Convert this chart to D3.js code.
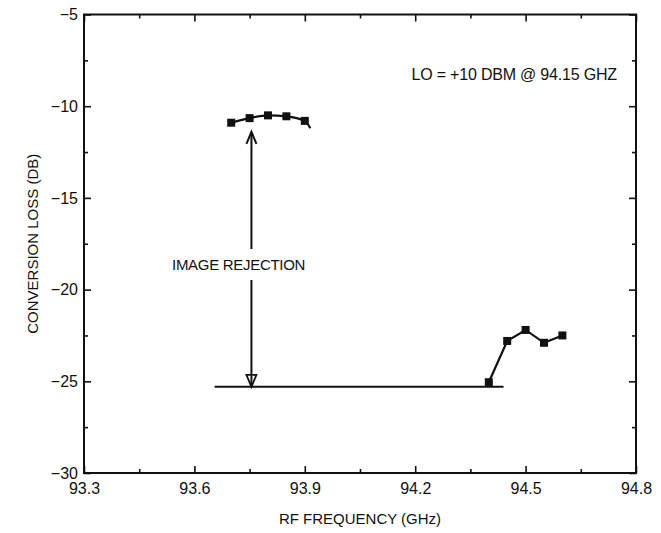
<!DOCTYPE html>
<html>
<head>
<meta charset="utf-8">
<script src="https://cdn.jsdelivr.net/npm/d3@7"></script>
<style>
    html, body { margin: 0; padding: 0; background: #fff; }
    svg { display: block; font-family: "Liberation Sans", Arial, Helvetica, sans-serif; }
    .tick line { stroke: #111; stroke-width: 1.6; }
    .tick text { fill: #111; font-size: 16px; }
</style>
</head>
<body>
<svg id="chart" width="661" height="533"></svg>
<script>
// Data
const upperFreq = [93.70, 93.75, 93.80, 93.85, 93.90];
const upperLoss = [-10.9, -10.65, -10.5, -10.55, -10.8];
const upperTail = [93.915, -11.2];   // trace runs on a little past the last point
const lowerFreq = [94.40, 94.45, 94.50, 94.55, 94.60];
const lowerLoss = [-25.05, -22.8, -22.2, -22.9, -22.5];
const floorLine = [[93.655, -25.3], [94.44, -25.3]];
const arrowX = 93.755;
const arrowEnds = [-11.4, -25.3];
const xTicks = [93.3, 93.6, 93.9, 94.2, 94.5, 94.8];
const xMinorTicks = [93.45, 93.75, 94.05, 94.35, 94.65];
const yTicks = [-5, -10, -15, -20, -25, -30];
const yMinorTicks = [-7.5, -12.5, -17.5, -22.5, -27.5];
const rejectionLabel = { text: 'IMAGE REJECTION', x: 93.72, y: -18.66 };
const loLabel = { text: 'LO = +10 DBM @ 94.15 GHZ', x: 94.19, y: -8.25 };

(function () {

    let margin = { top: 14.5, right: 25, bottom: 60, left: 84 },
        svg = d3.select('#chart'),
        width = +svg.attr('width') - margin.left - margin.right,
        height = +svg.attr('height') - margin.top - margin.bottom,
        g = svg.append('g').attr('transform', 'translate(' + margin.left + ',' + margin.top + ')'),
        x = d3.scaleLinear().domain([93.3, 94.8]).range([0, width]),
        y = d3.scaleLinear().domain([-30, -5]).range([height, 0])
    ;

    // Axes: major + minor ticks pointing inward on all four sides
    function axis(gen, values, size, labels, tx, ty, pad) {
        let a = gen.tickValues(values).tickSizeInner(-size).tickSizeOuter(0).tickPadding(pad || 0);
        if (!labels) a.tickFormat('');
        let sel = g.append('g').attr('transform', 'translate(' + tx + ',' + ty + ')').call(a);
        sel.select('.domain').remove();
        return sel;
    }

    axis(d3.axisBottom(x), xTicks, 7, true, 0, height, 10)
        .selectAll('text').text((d) => d.toFixed(1));
    axis(d3.axisBottom(x), xMinorTicks, 4, false, 0, height);
    axis(d3.axisTop(x), xTicks, 7, false, 0, 0);
    axis(d3.axisTop(x), xMinorTicks, 4, false, 0, 0);
    axis(d3.axisLeft(y), yTicks, 7, true, 0, 0, 6)
        .selectAll('text').text((d) => d3.format('d')(d));
    axis(d3.axisLeft(y), yMinorTicks, 4, false, 0, 0);
    axis(d3.axisRight(y), yTicks, 7, false, width, 0);
    axis(d3.axisRight(y), yMinorTicks, 4, false, width, 0);

    // Frame
    g.append('rect')
        .attr('width', width)
        .attr('height', height)
        .attr('fill', 'none')
        .attr('stroke', '#111')
        .attr('stroke-width', 2);

    // Axis titles
    svg.append('text')
        .attr('x', margin.left + width / 2)
        .attr('y', 524)
        .attr('text-anchor', 'middle')
        .attr('font-size', 15)
        .attr('fill', '#111')
        .text('RF FREQUENCY (GHz)');

    svg.append('text')
        .attr('transform', 'translate(38,' + (margin.top + height / 2) + ') rotate(-90)')
        .attr('text-anchor', 'middle')
        .attr('font-size', 15)
        .attr('fill', '#111')
        .text('CONVERSION LOSS (DB)');

    // Floor line
    let line = d3.line().x((d) => x(d[0])).y((d) => y(d[1]));
    g.append('path')
        .attr('d', line(floorLine))
        .attr('fill', 'none')
        .attr('stroke', '#111')
        .attr('stroke-width', 2);

    // Series: upper trace is a smooth arc, lower one joined point to point
    let upper = upperFreq.map((f, i) => [f, upperLoss[i]]),
        lower = lowerFreq.map((f, i) => [f, lowerLoss[i]]);

    g.append('path')
        .attr('d', d3.line().x((d) => x(d[0])).y((d) => y(d[1])).curve(d3.curveMonotoneX)(upper.concat([upperTail])))
        .attr('fill', 'none')
        .attr('stroke', '#111')
        .attr('stroke-width', 2.2);
    g.append('path')
        .attr('d', line(lower))
        .attr('fill', 'none')
        .attr('stroke', '#111')
        .attr('stroke-width', 2.2);

    g.selectAll(null).data(upper.concat(lower)).enter().append('rect')
        .attr('x', (d) => x(d[0]) - 4)
        .attr('y', (d) => y(d[1]) - 4)
        .attr('width', 8)
        .attr('height', 8)
        .attr('fill', '#111');

    // Image rejection arrow, broken around its label
    let ax = x(arrowX),
        yTop = y(arrowEnds[0]),
        yBot = y(arrowEnds[1]),
        yLab = y(rejectionLabel.y);

    [[yTop, yLab - 16], [yLab + 15, yBot]].forEach((seg) => {
        g.append('line')
            .attr('x1', ax).attr('x2', ax)
            .attr('y1', seg[0]).attr('y2', seg[1])
            .attr('stroke', '#111')
            .attr('stroke-width', 2);
    });
    g.append('path')
        .attr('d', 'M' + (ax - 5) + ',' + (yTop + 12) + 'L' + ax + ',' + yTop + 'L' + (ax + 5) + ',' + (yTop + 12))
        .attr('fill', 'none').attr('stroke', '#111').attr('stroke-width', 2);
    g.append('path')
        .attr('d', 'M' + (ax - 5) + ',' + (yBot - 12) + 'L' + ax + ',' + yBot + 'L' + (ax + 5) + ',' + (yBot - 12) + 'Z')
        .attr('fill', 'none').attr('stroke', '#111').attr('stroke-width', 1.8);

    // Annotations
    g.append('text')
        .attr('x', x(rejectionLabel.x))
        .attr('y', yLab)
        .attr('dy', '0.35em')
        .attr('text-anchor', 'middle')
        .attr('font-size', 15)
        .attr('letter-spacing', -0.3)
        .attr('fill', '#111')
        .text(rejectionLabel.text);

    g.append('text')
        .attr('x', x(loLabel.x))
        .attr('y', y(loLabel.y))
        .attr('dy', '0.35em')
        .attr('font-size', 16)
        .attr('letter-spacing', -0.2)
        .attr('fill', '#111')
        .text(loLabel.text);

}());
</script>
</body>
</html>
